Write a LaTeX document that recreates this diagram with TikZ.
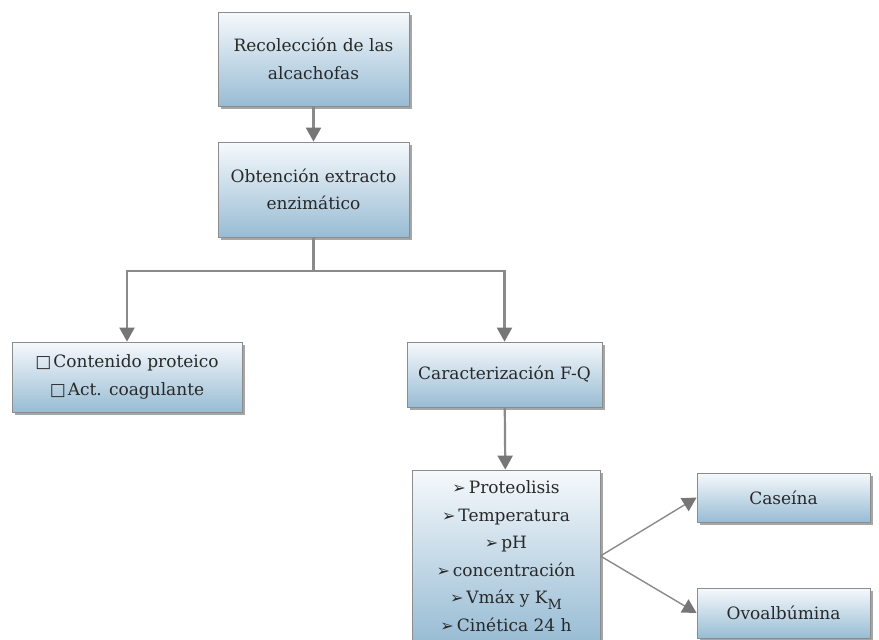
\documentclass[tikz,border=0pt]{standalone}
\usepackage{fontspec}
\usetikzlibrary{arrows.meta,shadows}
\setmainfont{DejaVu Serif}
\newfontfamily\symfont{DejaVu Sans}
\definecolor{boxtop}{RGB}{246,249,252}
\definecolor{boxbottom}{RGB}{152,188,212}
\definecolor{boxline}{RGB}{140,140,140}
\definecolor{linkgray}{RGB}{138,138,138}
\definecolor{tipgray}{RGB}{118,118,118}
\definecolor{inkgray}{RGB}{40,40,40}
\newcommand\bulletmark{{\symfont\fontsize{16}{16}\selectfont ➢}\hspace{3pt}}
\newcommand\checkmarkbox{{\symfont\fontsize{17}{17}\selectfont □}\hspace{2pt}}
\tikzset{
  x=1pt, y=-1pt,
  stepbox/.style={draw=boxline, line width=0.8pt, top color=boxtop, bottom color=boxbottom,
    inner sep=0pt, align=center, text=inkgray,
    font=\fontsize{17}{27.5}\selectfont,
    drop shadow={shadow xshift=3pt, shadow yshift=-3pt, fill=black, opacity=0.35}},
  flow/.style={draw=linkgray, line width=2.2pt,
    -{Triangle[length=14pt, width=15pt, fill=tipgray, color=tipgray]}},
  fan/.style={draw=linkgray, line width=1.4pt,
    -{Triangle[length=14pt, width=15pt, fill=tipgray, color=tipgray]}},
}
\begin{document}
\begin{tikzpicture}
\useasboundingbox (0,0) rectangle (879,640);

\node[stepbox, minimum width=191pt, minimum height=94pt] (harvest) at (313.5,59)
  {Recolección de las\\alcachofas};
\node[stepbox, minimum width=191pt, minimum height=95pt] (extract) at (313.5,189.5)
  {Obtención extracto\\enzimático};
\node[stepbox, minimum width=230pt, minimum height=70pt] (content) at (127,377)
  {\checkmarkbox Contenido proteico\\\checkmarkbox Act. coagulante};
\node[stepbox, minimum width=195pt, minimum height=65pt] (charac) at (504.5,374.5)
  {Caracterización F-Q};
\node[stepbox, minimum width=188pt, minimum height=172pt] (params) at (506,556)
  {\bulletmark Proteolisis\\
   \bulletmark Temperatura\\
   \bulletmark pH\\
   \bulletmark concentración\\
   \bulletmark Vmáx y K\raisebox{-6pt}{\fontsize{14}{14}\selectfont M}\\
   \bulletmark Cinética 24 h};
\node[stepbox, minimum width=173pt, minimum height=49pt] (casein) at (783.5,497.5)
  {Caseína};
\node[stepbox, minimum width=173pt, minimum height=50pt] (ovalb) at (783.5,613)
  {Ovoalbúmina};

\coordinate (split) at (313.5,271);

\draw[flow] (harvest) -- (extract);
\draw[draw=linkgray, line width=2.2pt] (extract.south) -- (split);
\draw[flow] (split) -| (content.north);
\draw[flow] (split) -| (charac.north);
\draw[flow] (charac) -- (params);
\draw[fan] (params.east) -- (casein.west);
\draw[fan] (params.east) -- (ovalb.west);
\end{tikzpicture}
\end{document}
